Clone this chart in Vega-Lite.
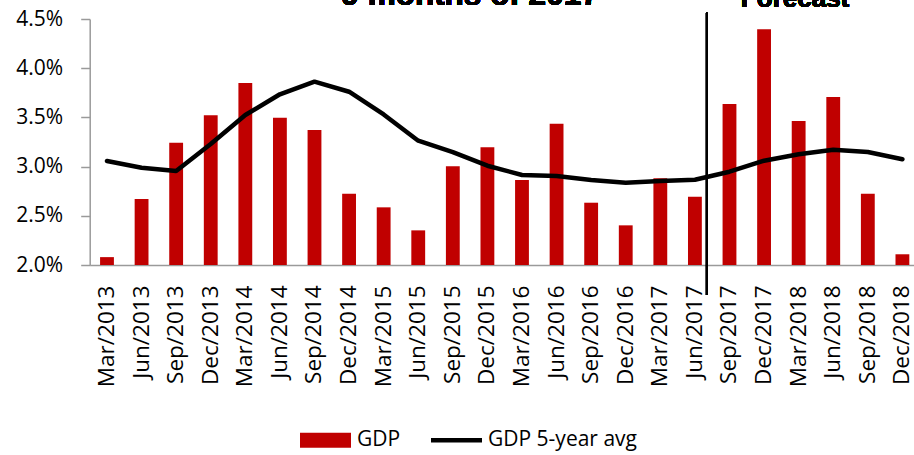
{
  "$schema": "https://vega.github.io/schema/vega-lite/v6.json",
  "width": 824,
  "height": 246,
  "autosize": {"type": "none"},
  "padding": {"left": 89.7, "top": 19, "right": 0.3, "bottom": 190},
  "background": "white",
  "config": {
    "view": {"stroke": null},
    "font": "Open Sans"
  },
  "data": {
    "values": [
      {"q": "Mar/2013", "gdp": 2.08, "avg": 3.057},
      {"q": "Jun/2013", "gdp": 2.671, "avg": 2.989},
      {"q": "Sep/2013", "gdp": 3.243, "avg": 2.955},
      {"q": "Dec/2013", "gdp": 3.521, "avg": 3.23},
      {"q": "Mar/2014", "gdp": 3.85, "avg": 3.524},
      {"q": "Jun/2014", "gdp": 3.497, "avg": 3.735},
      {"q": "Sep/2014", "gdp": 3.372, "avg": 3.863},
      {"q": "Dec/2014", "gdp": 2.725, "avg": 3.761},
      {"q": "Mar/2015", "gdp": 2.586, "avg": 3.53},
      {"q": "Jun/2015", "gdp": 2.352, "avg": 3.263},
      {"q": "Sep/2015", "gdp": 3.003, "avg": 3.148},
      {"q": "Dec/2015", "gdp": 3.196, "avg": 3.009},
      {"q": "Mar/2016", "gdp": 2.864, "avg": 2.915},
      {"q": "Jun/2016", "gdp": 3.436, "avg": 2.904},
      {"q": "Sep/2016", "gdp": 2.633, "avg": 2.864},
      {"q": "Dec/2016", "gdp": 2.403, "avg": 2.836},
      {"q": "Mar/2017", "gdp": 2.881, "avg": 2.854},
      {"q": "Jun/2017", "gdp": 2.694, "avg": 2.867},
      {"q": "Sep/2017", "gdp": 3.636, "avg": 2.948},
      {"q": "Dec/2017", "gdp": 4.397, "avg": 3.06},
      {"q": "Mar/2018", "gdp": 3.463, "avg": 3.125},
      {"q": "Jun/2018", "gdp": 3.707, "avg": 3.172},
      {"q": "Sep/2018", "gdp": 2.725, "avg": 3.148},
      {"q": "Dec/2018", "gdp": 2.109, "avg": 3.074}
    ]
  },
  "encoding": {
    "x": {
      "field": "q",
      "type": "ordinal",
      "sort": null,
      "scale": {"range": [0, 830], "paddingInner": 0.6, "paddingOuter": 0.3},
      "axis": {
        "title": null,
        "labelAngle": -90,
        "labelFont": "Open Sans",
        "labelFontSize": 22.5,
        "labelColor": "#000000",
        "labelPadding": 20,
        "ticks": false,
        "tickSize": 0,
        "labelOverlap": false,
        "domainColor": "#9a9a9a",
        "domainWidth": 1.5,
        "zindex": 0
      }
    }
  },
  "layer": [
    {
      "mark": {"type": "bar", "color": "#C00000"},
      "encoding": {
        "y": {
          "field": "gdp",
          "type": "quantitative",
          "scale": {"domain": [2, 4.5], "nice": false, "zero": false},
          "axis": {
            "title": null,
            "values": [2, 2.5, 3, 3.5, 4, 4.5],
            "labelExpr": "format(datum.value, '.1f') + '%'",
            "labelFont": "Open Sans",
            "labelFontSize": 21,
            "labelColor": "#000000",
            "grid": false,
            "tickSize": 9,
            "tickColor": "#9a9a9a",
            "tickWidth": 1.5,
            "labelPadding": 18,
            "domainColor": "#9a9a9a",
            "domainWidth": 1.5
          }
        },
        "y2": {"datum": 2},
        "color": {
          "datum": "GDP",
          "type": "nominal",
          "scale": {"domain": ["GDP", "GDP 5-year avg"], "range": ["#C00000", "#000000"]},
          "legend": {
            "orient": "none",
            "legendX": 210.3,
            "legendY": 395.5,
            "direction": "horizontal",
            "title": null,
            "padding": 0,
            "symbolSize": 2601,
            "symbolStrokeWidth": 0,
            "labelFont": "Open Sans",
            "labelFontSize": 21,
            "labelColor": "#000000",
            "labelOffset": 6,
            "columnPadding": 30,
            "encode": {
              "symbols": {
                "update": {
                  "shape": {"signal": "datum.value === 'GDP' ? 'M-1,-0.29H1V0.29H-1Z' : 'M-1,-0.29L-1,-0.29M-1,-0.09H1V0.09H-1ZM-1,0.29L-1,0.29'"},
                  "fill": {"signal": "datum.value === 'GDP' ? '#C00000' : '#000000'"},
                  "stroke": {"value": "transparent"},
                  "strokeWidth": {"value": 0},
                  "opacity": {"value": 1}
                }
              }
            }
          }
        }
      }
    },
    {
      "mark": {"type": "line", "strokeWidth": 4.5, "strokeCap": "round", "strokeJoin": "round"},
      "encoding": {
        "y": {"field": "avg", "type": "quantitative"},
        "color": {"datum": "GDP 5-year avg", "type": "nominal"}
      }
    },
    {
      "mark": {"type": "rule", "color": "#000000", "strokeWidth": 1.5, "xOffset": 11.8},
      "encoding": {
        "x": {"datum": "Jun/2017"},
        "y": {"datum": 4.564},
        "y2": {"datum": 1.695}
      }
    },
    {
      "mark": {"type": "text", "text": "9 months of 2017", "font": "Liberation Sans", "fontWeight": "bold", "fontSize": 31.5, "baseline": "alphabetic", "align": "center", "dx": 17.2, "color": "#000000"},
      "encoding": {
        "x": {"datum": "Sep/2015"},
        "y": {"datum": 4.645}
      }
    },
    {
      "mark": {"type": "text", "text": "Forecast", "font": "Liberation Sans", "fontWeight": "bold", "fontSize": 26, "baseline": "alphabetic", "align": "center", "dx": -3.6, "color": "#000000"},
      "encoding": {
        "x": {"datum": "Mar/2018"},
        "y": {"datum": 4.617}
      }
    }
  ]
}
